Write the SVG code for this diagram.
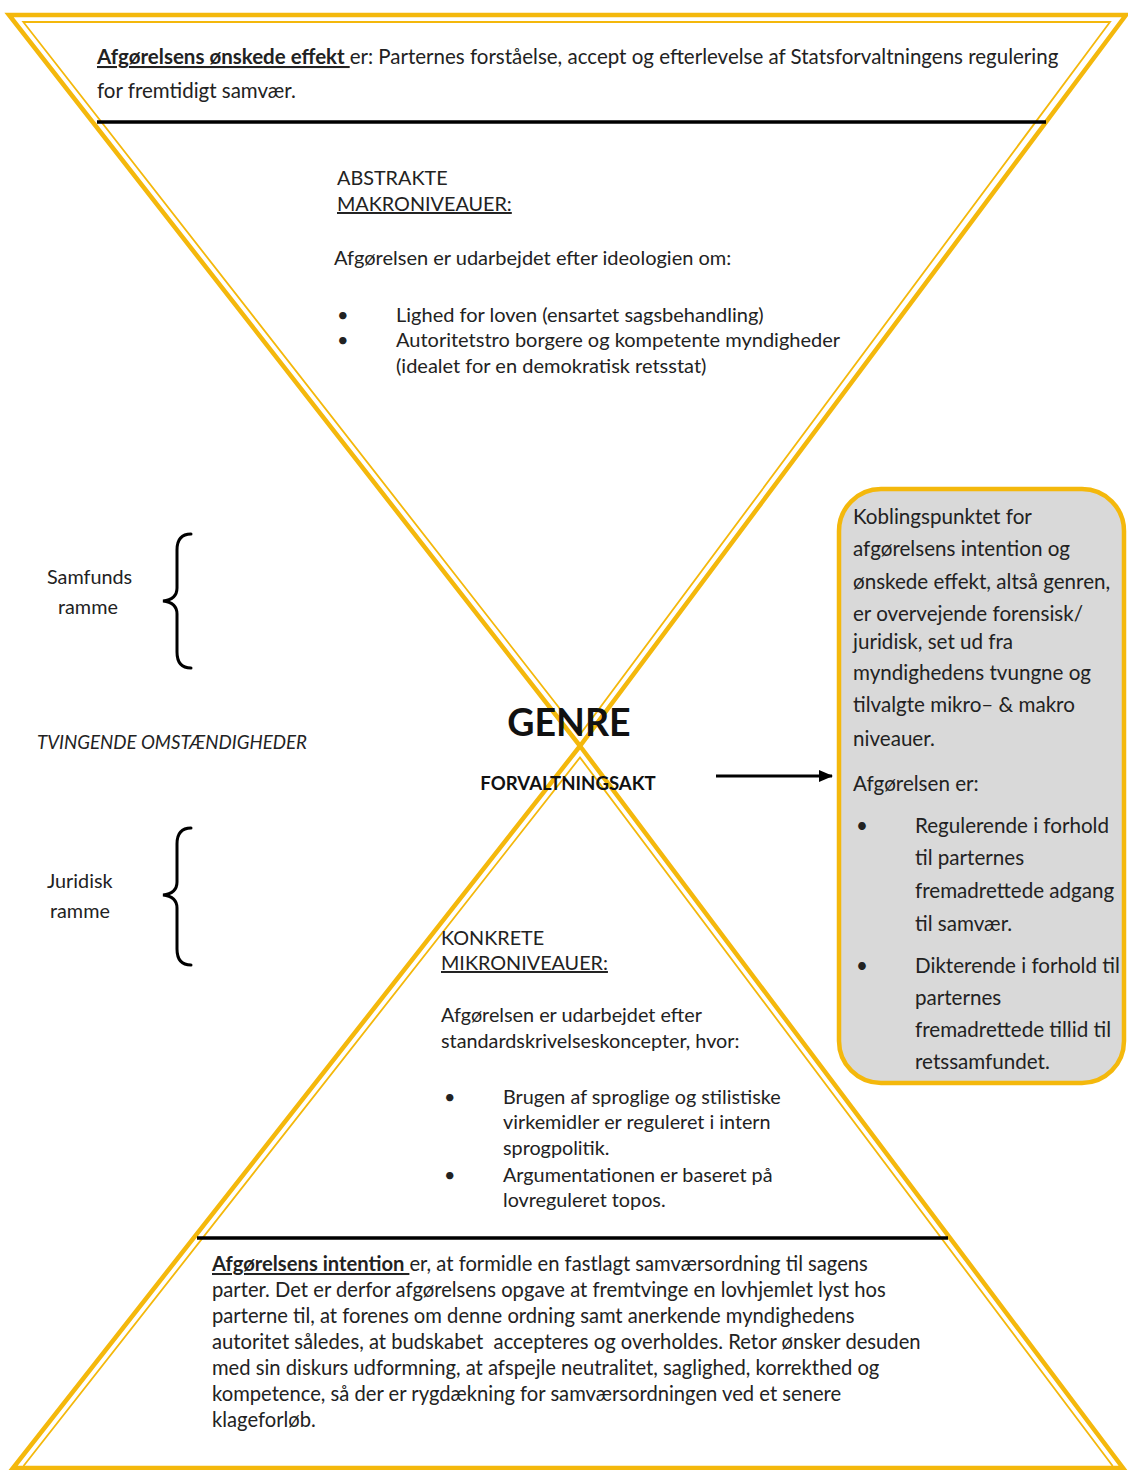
<svg xmlns="http://www.w3.org/2000/svg" width="1128" height="1470" viewBox="0 0 1128 1470">
<defs>
<style>
.t{font-family:Lato,"Open Sans","Liberation Sans",sans-serif;font-size:19.8px;fill:#222}
.top{font-size:20.5px}
.bot{font-size:20.2px}
.ab{font-size:20px}
.it{font-size:18.7px;font-style:italic}
.bx{font-family:Lato,"Open Sans","Liberation Sans",sans-serif;font-size:20.6px;fill:#222}
.b{font-weight:bold}
.u{text-decoration:underline}
.fo{fill:none;stroke:#F4B80C;stroke-width:4.5;stroke-linejoin:miter}
.fi{fill:none;stroke:#F4B80C;stroke-width:1.8}
.rule{stroke:#000;stroke-width:3.5}
.brace{fill:none;stroke:#000;stroke-width:3;stroke-linecap:round}
</style>
<marker id="ah" markerWidth="14" markerHeight="12" refX="13" refY="6" orient="auto" markerUnits="userSpaceOnUse">
<path d="M0,0 L14,6 L0,12 Z" fill="#000"/>
</marker>
</defs>
<rect width="1128" height="1470" fill="#fff"/>

<g id="frame">
<polygon class="fo" points="9,15 1126,15 580,746"/>
<polygon class="fi" points="23.3,22 1110,22 580,734.5"/>
<polygon class="fo" points="580,746 1123,1468 13,1468"/>
<polyline class="fi" points="23.5,1466 580,757.5 1112.7,1466"/>
</g>

<g id="top-effect">
<line class="rule" x1="97" y1="122" x2="1046" y2="122"/>
<text class="t top" x="97" y="64"><tspan class="b u">Afgørelsens ønskede effekt </tspan>er: Parternes forståelse, accept og efterlevelse af Statsforvaltningens regulering</text>
<text class="t top" x="97" y="98">for fremtidigt samvær.</text>
</g>

<g id="abstrakte">
<text class="t" x="337" y="185">ABSTRAKTE</text>
<text class="t u" x="337" y="211">MAKRONIVEAUER:</text>
<text class="t ab" x="334" y="265">Afgørelsen er udarbejdet efter ideologien om:</text>
<text class="t ab" x="337" y="322">•</text>
<text class="t ab" x="396" y="322">Lighed for loven (ensartet sagsbehandling)</text>
<text class="t ab" x="337" y="347">•</text>
<text class="t ab" x="396" y="347">Autoritetstro borgere og kompetente myndigheder</text>
<text class="t ab" x="396" y="373">(idealet for en demokratisk retsstat)</text>
</g>

<g id="samfunds">
<text class="t" x="47" y="584">Samfunds</text>
<text class="t" x="58" y="614">ramme</text>
<path class="brace" d="M191,534 C181,534 177,540 177,550 L177,588 C177,596 172,600 163,601 C172,602 177,606 177,614 L177,652 C177,662 181,668 191,668"/>
</g>

<g id="tvingende">
<text class="t it" x="37" y="749">TVINGENDE OMSTÆNDIGHEDER</text>
</g>

<g id="juridisk">
<text class="t" x="47" y="888">Juridisk</text>
<text class="t" x="50" y="918">ramme</text>
<path class="brace" d="M191,828 C181,828 177,834 177,844 L177,882 C177,890 172,894 163,895 C172,896 177,900 177,908 L177,949 C177,959 181,965 191,965"/>
</g>

<g id="genre">
<text x="569" y="736" text-anchor="middle" font-family="Lato,'Open Sans','Liberation Sans',sans-serif" font-weight="bold" font-size="37.5" fill="#111">GENRE</text>
<text x="568" y="790" text-anchor="middle" font-family="Lato,'Open Sans','Liberation Sans',sans-serif" font-weight="bold" font-size="18.6" fill="#111">FORVALTNINGSAKT</text>
</g>

<g id="connectors">
<line x1="716" y1="776" x2="832" y2="776" stroke="#000" stroke-width="3" marker-end="url(#ah)"/>
</g>

<g id="kobling">
<rect x="839" y="489" width="285" height="594" rx="42" ry="42" fill="#D9D9D9" stroke="#F4B80C" stroke-width="4.5"/>
<text class="bx" x="853" y="524">Koblingspunktet for</text>
<text class="bx" x="853" y="556">afgørelsens intention og</text>
<text class="bx" x="853" y="589">ønskede effekt, altså genren,</text>
<text class="bx" x="853" y="621">er overvejende forensisk/</text>
<text class="bx" x="853" y="649">juridisk, set ud fra</text>
<text class="bx" x="853" y="680">myndighedens tvungne og</text>
<text class="bx" x="853" y="712">tilvalgte mikro– &amp; makro</text>
<text class="bx" x="853" y="746">niveauer.</text>
<text class="bx" x="853" y="791">Afgørelsen er:</text>
<text class="bx" x="856" y="833">•</text>
<text class="bx" x="915" y="833">Regulerende i forhold</text>
<text class="bx" x="915" y="865">til parternes</text>
<text class="bx" x="915" y="898">fremadrettede adgang</text>
<text class="bx" x="915" y="931">til samvær.</text>
<text class="bx" x="856" y="973">•</text>
<text class="bx" x="915" y="973">Dikterende i forhold til</text>
<text class="bx" x="915" y="1005">parternes</text>
<text class="bx" x="915" y="1037">fremadrettede tillid til</text>
<text class="bx" x="915" y="1069">retssamfundet.</text>
</g>

<g id="konkrete">
<text class="t" x="441" y="945">KONKRETE</text>
<text class="t u" x="441" y="970">MIKRONIVEAUER:</text>
<text class="t" x="441" y="1022">Afgørelsen er udarbejdet efter</text>
<text class="t" x="441" y="1048">standardskrivelseskoncepter, hvor:</text>
<text class="t" x="444" y="1104">•</text>
<text class="t" x="503" y="1104">Brugen af sproglige og stilistiske</text>
<text class="t" x="503" y="1129">virkemidler er reguleret i intern</text>
<text class="t" x="503" y="1155">sprogpolitik.</text>
<text class="t" x="444" y="1182">•</text>
<text class="t" x="503" y="1182">Argumentationen er baseret på</text>
<text class="t" x="503" y="1207">lovreguleret topos.</text>
</g>

<g id="intention">
<line class="rule" x1="197" y1="1238" x2="948" y2="1238"/>
<text class="t bot" x="212" y="1271"><tspan class="b u">Afgørelsens intention </tspan>er, at formidle en fastlagt samværsordning til sagens</text>
<text class="t bot" x="212" y="1297">parter. Det er derfor afgørelsens opgave at fremtvinge en lovhjemlet lyst hos</text>
<text class="t bot" x="212" y="1323">parterne til, at forenes om denne ordning samt anerkende myndighedens</text>
<text class="t bot" x="212" y="1349" xml:space="preserve">autoritet således, at budskabet  accepteres og overholdes. Retor ønsker desuden</text>
<text class="t bot" x="212" y="1375">med sin diskurs udformning, at afspejle neutralitet, saglighed, korrekthed og</text>
<text class="t bot" x="212" y="1401">kompetence, så der er rygdækning for samværsordningen ved et senere</text>
<text class="t bot" x="212" y="1427">klageforløb.</text>
</g>
</svg>
